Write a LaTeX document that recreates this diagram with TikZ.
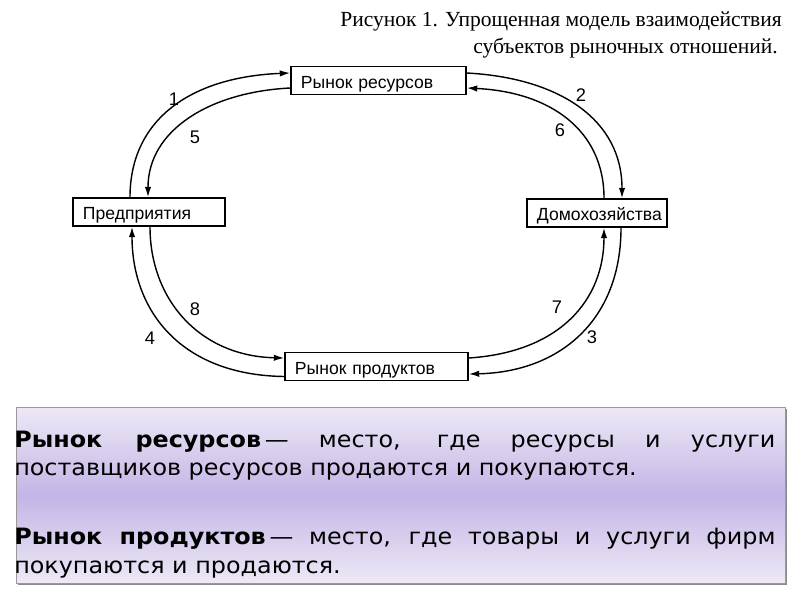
\documentclass[tikz,border=0pt]{standalone}
\usepackage{fontspec}
\setmainfont{Liberation Serif}
\newfontfamily\boxfont{Liberation Sans}
\newfontfamily\notefont[FakeStretch=1.06]{DejaVu Sans}
\usetikzlibrary{arrows.meta,calc}
\definecolor{notetop}{HTML}{EEE8F6}
\definecolor{notemid}{HTML}{C4B5E6}
\tikzset{
  market/.style={draw,line width=1.1pt,inner xsep=0.25cm,inner ysep=0pt,align=left,
    text height=12pt,text depth=1pt,minimum height=0.7cm,font=\boxfont\fontsize{12.5}{14}\selectfont},
  flow/.style={line width=1pt,-{Latex[length=2.6mm,width=1.6mm]}},
  num/.style={font=\boxfont\fontsize{13}{15}\selectfont,inner sep=0pt},
  noteline/.style={anchor=base west,inner sep=0pt,font=\notefont\fontsize{16}{18}\selectfont}
}
\begin{document}
\begin{tikzpicture}[x=0.025cm,y=-0.025cm]
\useasboundingbox (0,0) rectangle (800,600);
\node [anchor=base east,inner sep=0pt,font=\fontsize{15.3}{17}\selectfont] (title1) at (782,26) {Рисунок 1. Упрощенная модель взаимодействия};
\node [anchor=base east,inner sep=0pt,font=\fontsize{15.3}{17}\selectfont] (title2) at (778,53) {субъектов рыночных отношений.};
\node [market,text width=3.875cm] (resmkt) at (378.5,80.5) {Рынок ресурсов};
\node [market,text width=3.3cm] (firms) at (149,212) {Предприятия};
\node [market,text width=3cm] (house) at (597,213) {Домохозяйства};
\node [market,text width=4.075cm] (prodmkt) at (376.5,366.5) {Рынок продуктов};
\draw [flow] ($(firms.north)+(-19,0)$) .. controls (130,120) and (190,77) .. ($(resmkt.west)+(0,-7.5)$);
\draw [flow] ($(resmkt.west)+(0,7.5)$) .. controls (210,92) and (148,130) .. ($(firms.north)+(-1,0)$);
\draw [flow] ($(resmkt.east)+(0,-7.5)$) .. controls (560,78) and (622,120) .. ($(house.north)+(25,0)$);
\draw [flow] ($(house.north)+(7,0)$) .. controls (604,130) and (550,92) .. ($(resmkt.east)+(0,7.5)$);
\draw [flow] ($(house.south)+(24,0)$) .. controls (621,320) and (560,372) .. ($(prodmkt.east)+(0,7.5)$);
\draw [flow] ($(prodmkt.east)+(0,-8.5)$) .. controls (560,352) and (604,300) .. ($(house.south)+(7,0)$);
\draw [flow] ($(prodmkt.west)+(0,10)$) .. controls (180,375) and (132,310) .. ($(firms.south)+(-17,0)$);
\draw [flow] ($(firms.south)+(1,0)$) .. controls (150,300) and (200,356) .. ($(prodmkt.west)+(0,-8.5)$);
\node [num] (n1) at (174,99) {1};
\node [num] (n5) at (195,137) {5};
\node [num] (n2) at (581,95) {2};
\node [num] (n6) at (560,130) {6};
\node [num] (n8) at (195,309) {8};
\node [num] (n4) at (150,338) {4};
\node [num] (n7) at (557,307) {7};
\node [num] (n3) at (592,337) {3};
\fill [black!45] (18,409) rectangle (787,585);
\shade [top color=notetop,bottom color=notetop,middle color=notemid] (16,407) rectangle (785,583);
\draw [black!40] (16,407) rectangle (785,583);
\node [noteline] (def1) at (14,447) {\makebox[19.025cm][s]{\textbf{Рынок ресурсов}\,— место, где ресурсы и услуги}};
\node [noteline] (def1b) at (14,475) {поставщиков ресурсов продаются и покупаются.};
\node [noteline] (def2) at (14,544) {\makebox[19.025cm][s]{\textbf{Рынок продуктов}\,— место, где товары и услуги фирм}};
\node [noteline] (def2b) at (14,573) {покупаются и продаются.};
\end{tikzpicture}
\end{document}
